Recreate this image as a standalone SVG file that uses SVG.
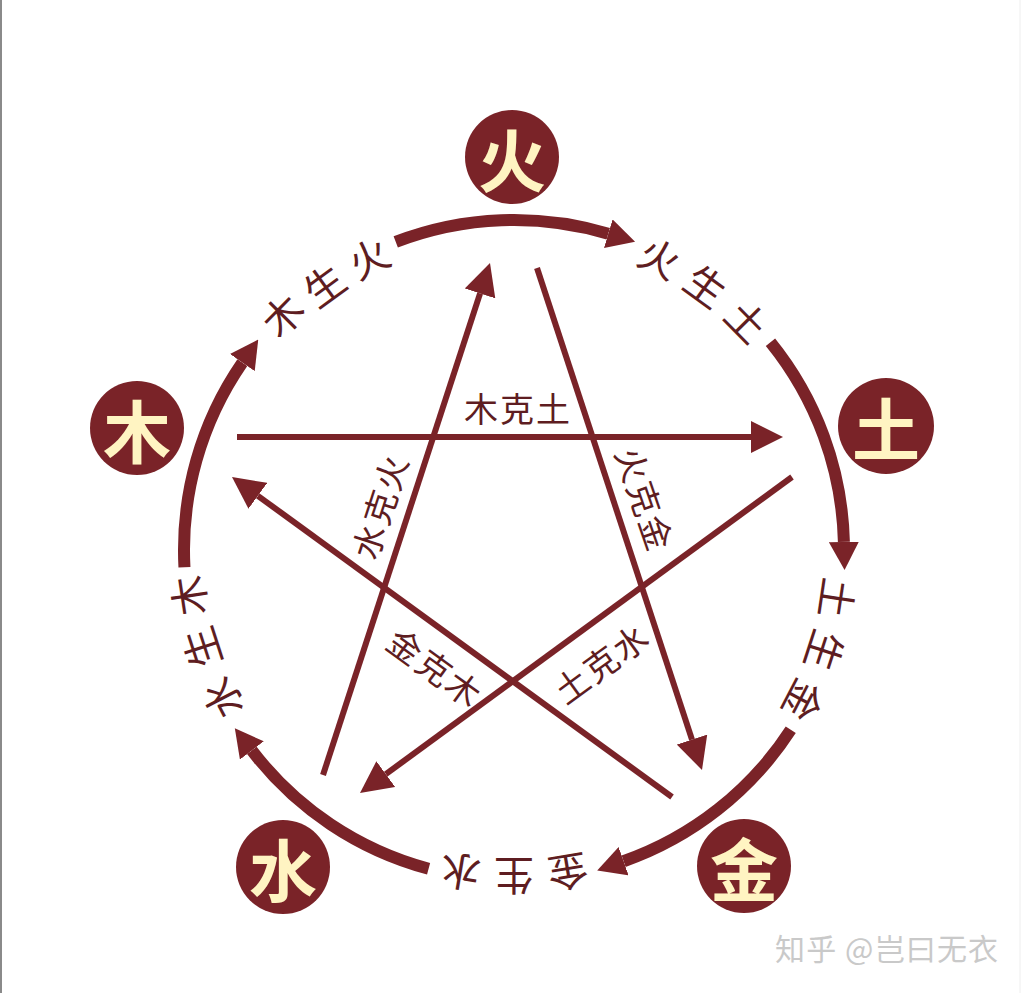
<svg xmlns="http://www.w3.org/2000/svg" width="1024" height="993" viewBox="0 0 1024 993">
<style>
.arc{fill:none;stroke:#7A2328;stroke-width:12}
.star{fill:none;stroke:#7A2328;stroke-width:6}
.node circle{fill:#7A2328}
.node text{fill:#FFF4C2;font-family:"Noto Sans CJK SC","Noto Sans CJK TC",sans-serif;font-weight:700;font-size:68px;text-anchor:middle;dominant-baseline:central}
.lbl{fill:#5E1D21;font-family:"Noto Sans CJK SC","Noto Sans CJK TC",sans-serif;font-size:40px;text-anchor:middle;dominant-baseline:central}
.klbl{fill:#5E1D21;font-family:"Noto Sans CJK SC","Noto Sans CJK TC",sans-serif;font-size:34px;letter-spacing:2px;text-anchor:middle;dominant-baseline:central}
.wm{fill:#C9C9C9;font-family:"Noto Sans CJK SC","Noto Sans CJK TC",sans-serif;font-size:30px}
</style>
<defs>
<marker id="arcHead" markerUnits="userSpaceOnUse" viewBox="0 0 28 30" markerWidth="28" markerHeight="30" refX="0" refY="15" orient="auto">
<path d="M0,0 L28,15 L0,30 z" fill="#7A2328"/>
</marker>
<marker id="starHead" markerUnits="userSpaceOnUse" viewBox="0 0 32 32" markerWidth="32" markerHeight="32" refX="0" refY="16" orient="auto">
<path d="M0,0 L32,16 L0,32 z" fill="#7A2328"/>
</marker>
</defs>
<rect x="0" y="0" width="1024" height="993" fill="#FFFFFF"/>
<line x1="1" y1="0" x2="1" y2="993" stroke="#8A8A8A" stroke-width="2"/>
<line x1="1020" y1="0" x2="1020" y2="993" stroke="#EEEEEE" stroke-width="1"/>

<g id="connectors">
<path class="arc" d="M184.45,567.27 A330,330 0 0 1 242.36,362.61" marker-end="url(#arcHead)"/>
<path class="arc" d="M395.74,241.92 A330,330 0 0 1 608.28,233.75" marker-end="url(#arcHead)"/>
<path class="arc" d="M770.46,342.32 A330,330 0 0 1 843.90,541.94" marker-end="url(#arcHead)"/>
<path class="arc" d="M790.76,729.73 A330,330 0 0 1 623.61,861.26" marker-end="url(#arcHead)"/>
<path class="arc" d="M428.59,868.76 A330,330 0 0 1 251.84,750.44" marker-end="url(#arcHead)"/>
<line class="star" x1="323" y1="775" x2="480.08" y2="293.43" marker-end="url(#starHead)"/>
<line class="star" x1="537" y1="268" x2="692.01" y2="739.60" marker-end="url(#starHead)"/>
<line class="star" x1="237" y1="437" x2="751" y2="437" marker-end="url(#starHead)"/>
<line class="star" x1="792" y1="477" x2="385.83" y2="774.11" marker-end="url(#starHead)"/>
<line class="star" x1="672" y1="797" x2="257.88" y2="495.82" marker-end="url(#starHead)"/>
</g>

<g id="sheng-labels">
<g id="mu-sheng-huo">
<text class="lbl" transform="translate(281.5,314) rotate(-45.5)">木</text>
<text class="lbl" transform="translate(323.5,284) rotate(-36)">生</text>
<text class="lbl" transform="translate(368,256.5) rotate(-26.5)">火</text>
</g>
<g id="huo-sheng-tu">
<text class="lbl" transform="translate(660.35,256.46) rotate(26.5)">火</text>
<text class="lbl" transform="translate(706.79,284.64) rotate(36)">生</text>
<text class="lbl" transform="translate(747.95,320.10) rotate(45.5)">土</text>
</g>
<g id="tu-sheng-jin">
<text class="lbl" transform="translate(838.40,598.48) rotate(98.5)">土</text>
<text class="lbl" transform="translate(825.95,651.36) rotate(108)">生</text>
<text class="lbl" transform="translate(804.94,701.45) rotate(117.5)">金</text>
</g>
<g id="jin-sheng-shui">
<text class="lbl" transform="translate(568.14,873.50) rotate(170.5)">金</text>
<text class="lbl" transform="translate(514,878) rotate(180)">生</text>
<text class="lbl" transform="translate(459.86,873.50) rotate(189.5)">水</text>
</g>
<g id="shui-sheng-mu">
<text class="lbl" transform="translate(221,699) rotate(242.5)">水</text>
<text class="lbl" transform="translate(200.5,648) rotate(252)">生</text>
<text class="lbl" transform="translate(187.5,596) rotate(261.5)">木</text>
</g>
</g>

<g id="ke-labels">
<text class="klbl" transform="translate(518,407)">木克土</text>
<text class="klbl" transform="translate(379,506) rotate(-72)">水克火</text>
<text class="klbl" transform="translate(646,499) rotate(71)">火克金</text>
<text class="klbl" transform="translate(436,667) rotate(36)">金克木</text>
<text class="klbl" transform="translate(601,662) rotate(-36)">土克水</text>
</g>

<g id="node-huo" class="node"><circle cx="512" cy="157" r="47"/><text x="512" y="157">火</text></g>
<g id="node-tu" class="node"><circle cx="886" cy="426" r="48"/><text x="886" y="426">土</text></g>
<g id="node-jin" class="node"><circle cx="744" cy="866" r="47"/><text x="744" y="866">金</text></g>
<g id="node-shui" class="node"><circle cx="283" cy="867" r="47"/><text x="283" y="867">水</text></g>
<g id="node-mu" class="node"><circle cx="137" cy="428" r="47"/><text x="137" y="428">木</text></g>

<text class="wm" x="775" y="960" textLength="223" lengthAdjust="spacing">知乎 @岂曰无衣</text>
</svg>
